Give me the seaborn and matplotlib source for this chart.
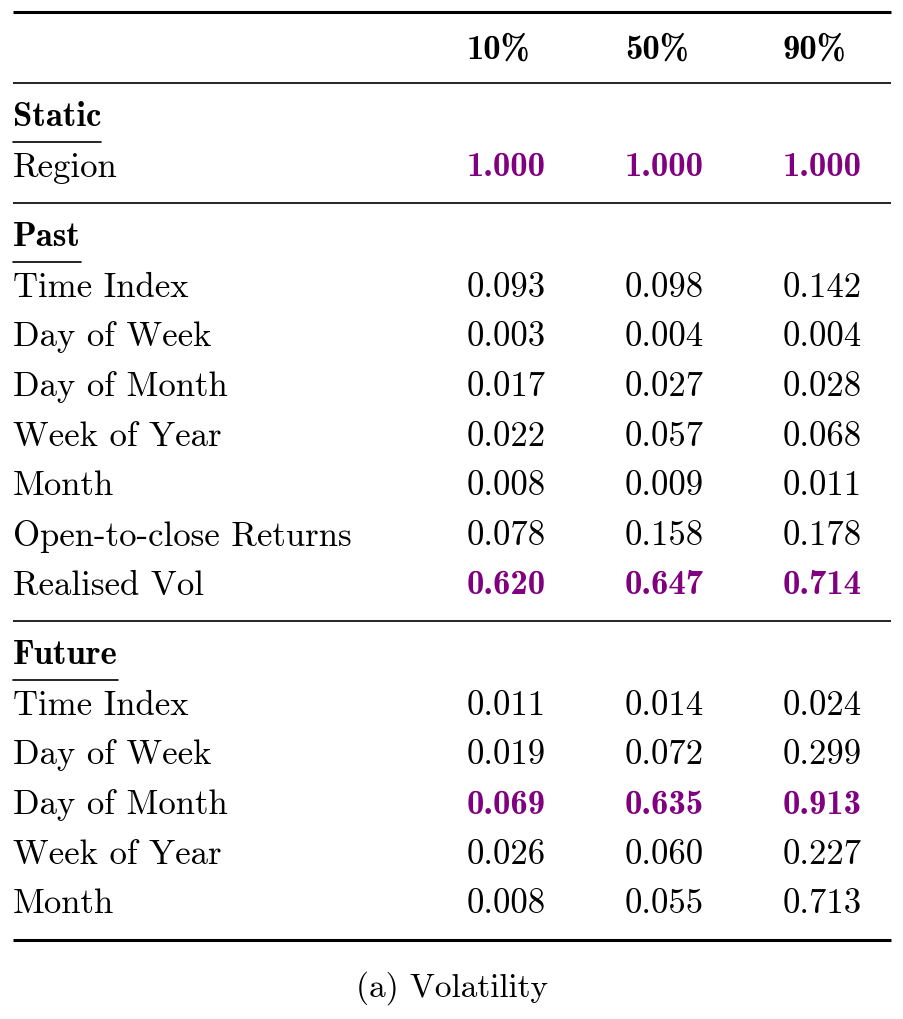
import matplotlib
matplotlib.use("Agg")
import matplotlib.pyplot as plt
import seaborn as sns

# table content
quantiles = ["10%", "50%", "90%"]
static_feats = ["Region"]
static_vals = [[1.000, 1.000, 1.000]]
past_feats = ["Time Index", "Day of Week", "Day of Month", "Week of Year", "Month",
              "Open-to-close Returns", "Realised Vol"]
past_vals = [[0.093, 0.098, 0.142], [0.003, 0.004, 0.004], [0.017, 0.027, 0.028],
             [0.022, 0.057, 0.068], [0.008, 0.009, 0.011], [0.078, 0.158, 0.178],
             [0.620, 0.647, 0.714]]
future_feats = ["Time Index", "Day of Week", "Day of Month", "Week of Year", "Month"]
future_vals = [[0.011, 0.014, 0.024], [0.019, 0.072, 0.299], [0.069, 0.635, 0.913],
               [0.026, 0.060, 0.227], [0.008, 0.055, 0.713]]
highlight = {("Static", "Region"), ("Past", "Realised Vol"), ("Future", "Day of Month")}
caption = "(a) Volatility"

sns.set_theme(style="white")
plt.rcParams["axes.unicode_minus"] = False
W, H = 904, 1020
fig = plt.figure(figsize=(W / 100, H / 100), dpi=100)
ax = fig.add_axes([0, 0, 1, 1])
ax.set_xlim(0, W)
ax.set_ylim(H, 0)
ax.axis("off")
purple = "#800080"
fs = 25


def txt(x, y, s, bold=False, color="black", ha="left", size=fs):
    return ax.text(x, y, s, fontsize=size, va="center", ha=ha, color=color,
                   family=["cmb10" if bold else "cmr10", "DejaVu Serif"])


def rule(y, lw):
    ax.plot([13, 891], [y, y], color="black", lw=lw, solid_capstyle="butt")


col_x = [467, 625, 783]
rule(13, 2.2)
for x, q in zip(col_x, quantiles):
    txt(x, 50, q, True)
rule(84, 1.2)

sections = [("Static", static_feats, static_vals, 118),
            ("Past", past_feats, past_vals, 238),
            ("Future", future_feats, future_vals, 656)]
row_h = 49.7
for i, (name, feats, vals, y0) in enumerate(sections):
    t = txt(13, y0, name, True)
    fig.canvas.draw()
    bb = t.get_window_extent()
    ax.plot([13, 13 + bb.width], [y0 + 25, y0 + 25], color="black", lw=1.2)
    for j, (f, v) in enumerate(zip(feats, vals)):
        y = y0 + (j + 1) * row_h
        txt(13, y, f)
        hl = (name, f) in highlight
        for x, val in zip(col_x, v):
            txt(x, y, f"{val:.3f}", hl, purple if hl else "black")
    if i == 0:
        rule(204, 1.2)
    elif i == 1:
        rule(622, 1.2)
rule(941, 2.2)
txt(W / 2, 988, caption, ha="center", size=fs - 1)

fig.savefig("out.png", dpi=100, facecolor="white")
